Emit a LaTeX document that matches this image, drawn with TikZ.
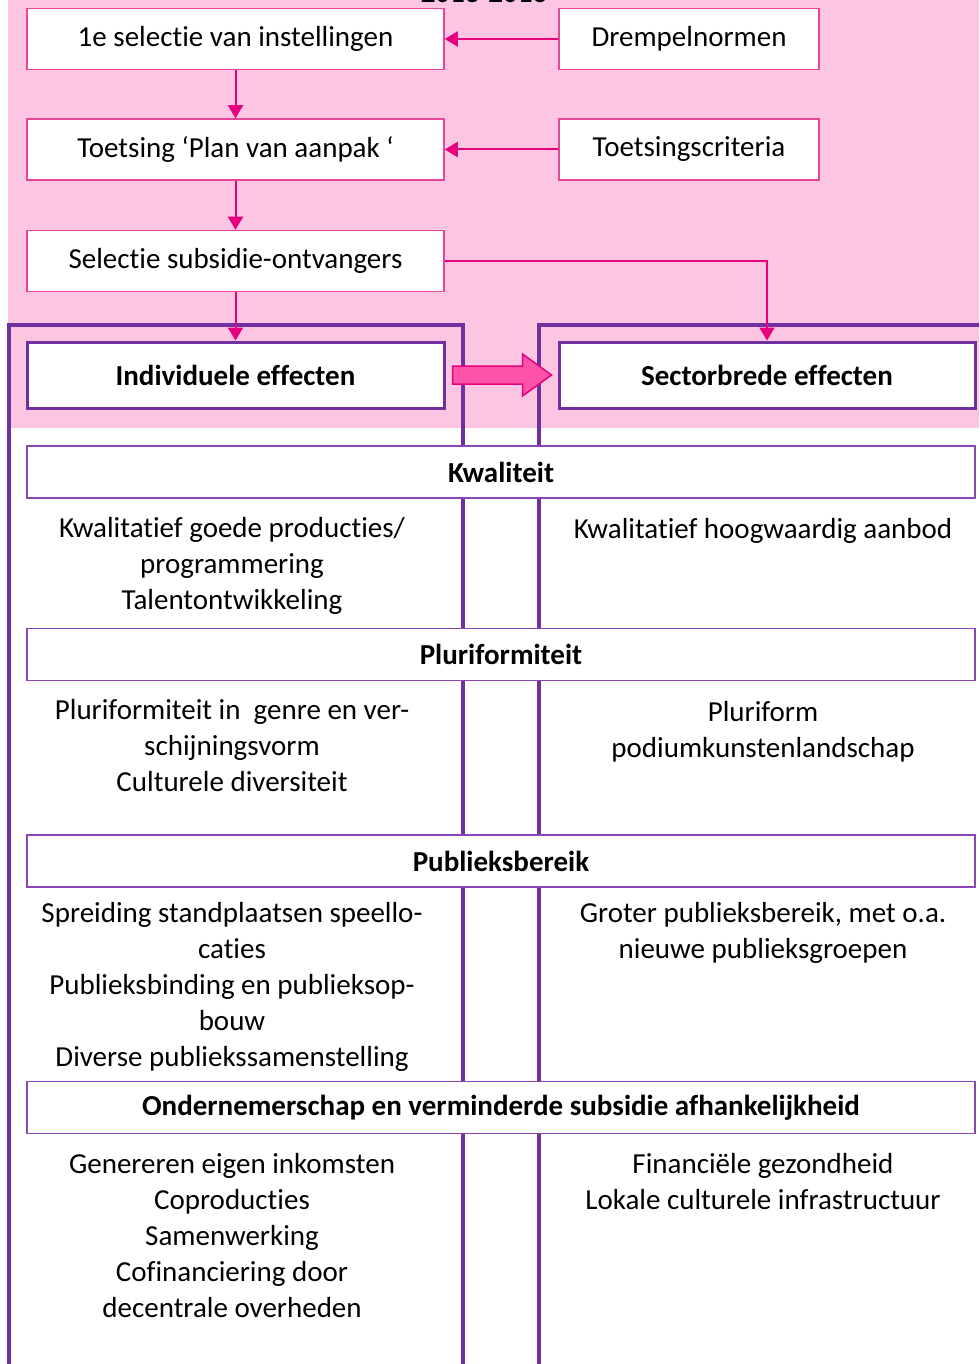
\documentclass[tikz,border=0pt]{standalone}
\usepackage{fontspec}
\setmainfont{Carlito}[Ligatures=NoCommon]
\usetikzlibrary{calc,arrows.meta}
\definecolor{achtergrondroze}{HTML}{FCC5E1}
\definecolor{lijnroze}{HTML}{E6007E}
\definecolor{randroze}{HTML}{E8449A}
\definecolor{pijlroze}{HTML}{FF52A9}
\definecolor{kaderpaars}{HTML}{7030A0}
\definecolor{themapaars}{HTML}{8B45B5}
\newcommand\groot{\fontsize{29}{36}\selectfont}

\begin{document}
\begin{tikzpicture}[x=1pt,y=-1pt,
	stapbox/.style={draw=randroze,line width=1.5pt,fill=white,minimum height=61pt,inner sep=0pt,font=\groot},
	effectbox/.style={draw=kaderpaars,line width=3pt,fill=white,minimum height=66pt,inner sep=0pt,font=\groot\bfseries},
	themabox/.style={draw=themapaars,line width=1.5pt,fill=white,minimum width=948pt,minimum height=52pt,inner sep=0pt,font=\groot\bfseries},
	kolom/.style={align=center,inner sep=0pt,anchor=base,font=\groot},
	pijl/.style={-{Triangle[length=13pt,width=15pt]},lijnroze,line width=2pt},
	kader/.style={kaderpaars,line width=4pt},
	blokpijl/.style={draw=lijnroze,fill=pijlroze,line width=1.5pt}]
	\useasboundingbox (0,0) rectangle (979,1364);
	\clip (0,0) rectangle (979,1364);
	%BACKGROUND
	\fill[achtergrondroze] (8,0) rectangle (979,428);
	\node[anchor=base,inner sep=0pt,font=\groot\bfseries] (periode) at (484,3) {2013-2016};
	
	%FRAMES
	\draw[kader] (9,1370) -- (9,324.5) -- (462.5,324.5) -- (462.5,1370);
	\draw[kader] (539,1370) -- (539,324.5) -- (985,324.5);
	
	%STEPS
	\node[stapbox,minimum width=417pt] (selectie) at (235.5,39) {1e selectie van instellingen};
	\node[stapbox,minimum width=260pt] (drempel) at (689,39) {Drempelnormen};
	\node[stapbox,minimum width=417pt] (toetsing) at (235.5,149.5) {Toetsing ‘Plan van aanpak ‘};
	\node[stapbox,minimum width=260pt] (criteria) at (689,149.5) {Toetsingscriteria};
	\node[stapbox,minimum width=417pt] (ontvangers) at (235.5,261) {Selectie subsidie-ontvangers};
	%
	\node[effectbox,minimum width=417pt] (individueel) at (235.5,375) {Individuele effecten};
	\node[effectbox,minimum width=416pt] (sectorbreed) at (767,375) {Sectorbrede effecten};
	
	%CONNECTORS
	\draw[pijl] (drempel) -- (selectie);
	\draw[pijl] (criteria) -- (toetsing);
	\draw[pijl] (selectie) -- (toetsing);
	\draw[pijl] (toetsing) -- (ontvangers);
	\draw[pijl] (ontvangers) -- (individueel);
	\draw[pijl] (ontvangers.east) -| (sectorbreed.north);
	\draw[blokpijl] ($(individueel.east)+(7,-9)$) -- ++(70,0) -- ++(0,-12) -- ++(29,21) -- ++(-29,21) -- ++(0,-12) -- ++(-70,0) -- cycle;
	
	%THEMES
	\node[themabox] (kwaliteit) at (501,472) {Kwaliteit};
	\node[themabox] (pluriformiteit) at (501,654.5) {Pluriformiteit};
	\node[themabox] (publieksbereik) at (501,861) {Publieksbereik};
	\node[themabox] (ondernemerschap) at (501,1107.5) {Ondernemerschap en verminderde subsidie afhankelijkheid};
	
	%EFFECT TEXTS
	\node[kolom] (kwalind) at (232,609) {Kwalitatief goede producties/\\programmering\\Talentontwikkeling};
	\node[kolom] (kwalsec) at (763,538) {Kwalitatief hoogwaardig aanbod};
	\node[kolom] (plurind) at (232,791) {Pluriformiteit in~ genre en ver-\\schijningsvorm\\Culturele diversiteit};
	\node[kolom] (plursec) at (763,757) {Pluriform\\podiumkunstenlandschap};
	\node[kolom] (publind) at (232,1066) {Spreiding standplaatsen speello-\\caties\\Publieksbinding en publieksop-\\bouw\\Diverse publiekssamenstelling};
	\node[kolom] (publsec) at (763,958) {Groter publieksbereik, met o.a.\\nieuwe publieksgroepen};
	\node[kolom] (ondind) at (232,1317) {Genereren eigen inkomsten\\Coproducties\\Samenwerking\\Cofinanciering door\\decentrale overheden};
	\node[kolom] (ondsec) at (763,1209) {Financiële gezondheid\\Lokale culturele infrastructuur};
\end{tikzpicture}
\end{document}
